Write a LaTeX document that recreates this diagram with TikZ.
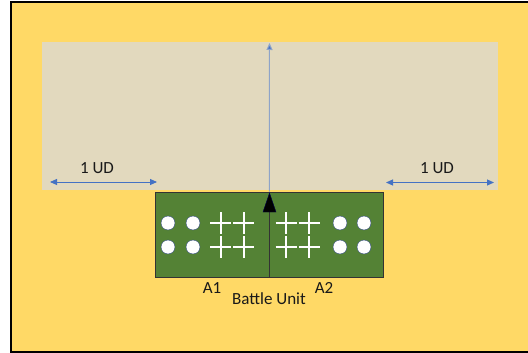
\documentclass[tikz,border=0pt]{standalone}
\usepackage{fontspec}
\setmainfont{Carlito}
\usetikzlibrary{arrows.meta}
\definecolor{bggold}{HTML}{FFD966}
\definecolor{zone}{HTML}{E2D9BE}
\definecolor{unitgreen}{HTML}{548235}
\definecolor{udblue}{HTML}{4472C4}
\definecolor{axisgray}{HTML}{8EA4C8}
\begin{document}
\begin{tikzpicture}[x=1pt,y=-1pt,
  lbl/.style={font=\fontsize{17}{19}\selectfont, text=black!90, inner sep=0pt},
  half/.style={draw=black!80, line width=0.8pt, fill=unitgreen, minimum width=114pt, minimum height=85pt, inner sep=0pt},
  udarrow/.style={draw=udblue, line width=0.9pt, {Triangle[width=6pt,length=7pt]}-{Triangle[width=6pt,length=7pt]}},
  dot/.style={fill=white, draw=udblue!60!black, line width=0.4pt},
  crossline/.style={draw=white, line width=2pt}
]
\useasboundingbox (0,0) rectangle (528,353);
\fill[white] (0,0) rectangle (528,353);
\fill[bggold] (10,1) rectangle (528,353);
\draw[black, line width=1.6pt] (11,353) -- (11,1.8) -- (528,1.8);
\draw[black, line width=1.6pt] (11,351.8) -- (528,351.8);
% zone
\node[fill=zone, minimum width=456pt, minimum height=148pt, inner sep=0pt] (zonebox) at (270,116) {};
% unit halves
\node[half] (h1) at (212,234.5) {};
\node[half] (h2) at (326,234.5) {};
% dots
\foreach \x in {168,193,340,364}{
  \foreach \y in {223,247}{
    \fill[dot] (\x,\y) circle (7);
  }
}
% crosses
\foreach \x in {220.5,243.5,286,309}{
  \foreach \y in {223,247}{
    \draw[crossline] (\x-10.5,\y) -- (\x+10.5,\y) (\x,\y-11) -- (\x,\y+11);
  }
}
% vertical axis
\coordinate (axtop) at (269.5,43);
\draw[axisgray, line width=1pt, -{Triangle[width=6pt,length=7pt,fill=udblue]}] (h1.north east) -- (axtop);
\fill[black, draw=black!70!blue] (269.5,193) -- (276,212) -- (263,212) -- cycle;
% 1 UD arrows
\coordinate (l1) at (50,182);
\coordinate (l2) at (157,182);
\coordinate (r1) at (386,182.5);
\coordinate (r2) at (494,182.5);
\draw[udarrow] (l1) -- (l2);
\draw[udarrow] (r1) -- (r2);
\node[lbl] (udl) at (97,168) {1 UD};
\node[lbl] (udr) at (437,168) {1 UD};
% labels
\node[lbl] (a1) at (212,288) {A1};
\node[lbl] (a2) at (324,288) {A2};
\node[lbl] (bu) at (269,299) {Battle Unit};
\end{tikzpicture}
\end{document}
